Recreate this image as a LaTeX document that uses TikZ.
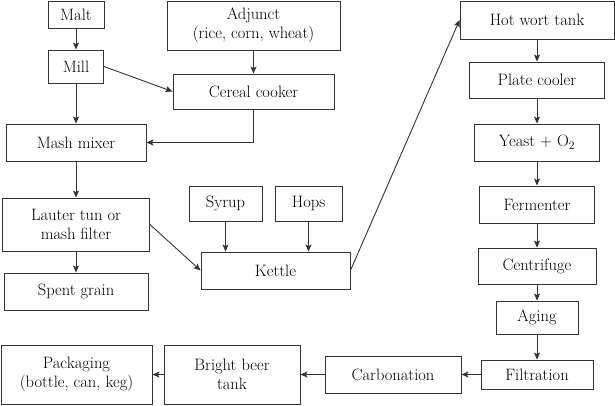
\documentclass[tikz,border=0pt]{standalone}
\usetikzlibrary{arrows.meta}
\begin{document}
\begin{tikzpicture}[x=1pt,y=-1pt,
  box/.style={draw=black!80,line width=0.9pt,inner sep=0pt,align=center,
    font=\fontsize{16.5}{19}\selectfont,text=black},
  arr/.style={draw=black!80,line width=0.9pt,-{Stealth[length=7pt,width=6pt,inset=1.5pt]}}]
\useasboundingbox (0,0) rectangle (615,405);
\newcommand{\bx}[6]{\node[box,minimum width=#4pt,minimum height=#5pt] (#1) at (#2,#3) {#6};}
\bx{malt}{76}{14.5}{56}{27}{Malt}
\bx{adj}{253.5}{25.5}{173}{49}{Adjunct\\(rice, corn, wheat)}
\bx{mill}{76}{66.5}{55}{33}{Mill}
\bx{cook}{253.5}{91.5}{161}{35}{Cereal cooker}
\bx{mash}{76}{142.5}{140}{37}{Mash mixer}
\bx{lauter}{76}{224.5}{147}{53}{Lauter tun or\\mash filter}
\bx{spent}{76}{291.5}{144}{37}{Spent grain}
\bx{syrup}{225.5}{203.5}{73}{35}{Syrup}
\bx{hops}{308.5}{203.5}{67}{35}{Hops}
\bx{kettle}{275.5}{270.5}{149}{37}{Kettle}
\bx{pack}{76.5}{374.5}{151}{59}{Packaging\\(bottle, can, keg)}
\bx{bright}{232}{374.5}{136}{59}{Bright beer\\tank}
\bx{carb}{393}{374.5}{136}{37}{Carbonation}
\bx{filt}{537}{374.5}{112}{29}{Filtration}
\bx{aging}{537}{317.5}{82}{33}{Aging}
\bx{cent}{537}{266}{118}{36}{Centrifuge}
\bx{ferm}{537}{204.5}{115}{37}{Fermenter}
\bx{yeast}{537}{142.5}{125}{37}{Yeast + O\textsubscript{2}}
\bx{plate}{537}{80}{135}{36}{Plate cooler}
\bx{hot}{537}{20}{154}{38}{Hot wort tank}
\draw[arr] (malt) -- (mill);
\draw[arr] (mill) -- (mash);
\draw[arr] (adj) -- (cook);
\draw[arr] (mill.east) -- (cook.west);
\draw[arr] (cook.south) |- (mash.east);
\draw[arr] (mash) -- (lauter);
\draw[arr] (lauter) -- (spent);
\draw[arr] (lauter.east) -- (kettle.west);
\draw[arr] (syrup.south) -- (syrup.south |- kettle.north);
\draw[arr] (hops.south) -- (hops.south |- kettle.north);
\draw[arr] (kettle.east) -- (hot.west);
\draw[arr] (hot) -- (plate);
\draw[arr] (plate) -- (yeast);
\draw[arr] (yeast) -- (ferm);
\draw[arr] (ferm) -- (cent);
\draw[arr] (cent) -- (aging);
\draw[arr] (aging) -- (filt);
\draw[arr] (filt) -- (carb);
\draw[arr] (carb) -- (bright);
\draw[arr] (bright) -- (pack);
\end{tikzpicture}
\end{document}
